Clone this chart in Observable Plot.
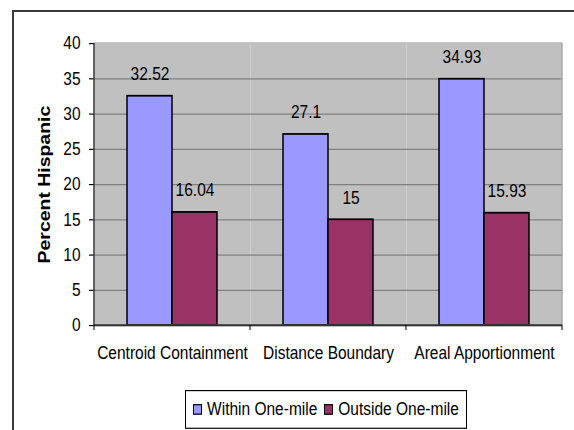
<!DOCTYPE html>
<html>
<head>
<meta charset="utf-8">
<script src="https://cdn.jsdelivr.net/npm/d3@7"></script>
<script src="https://cdn.jsdelivr.net/npm/@observablehq/plot@0.6"></script>
<style>
  html, body { margin: 0; padding: 0; background: #fff; overflow: hidden; }
  #wrap { position: relative; width: 574px; height: 430px; overflow: hidden; font-family: "Liberation Sans", Arial, sans-serif; }
  #outer { position: absolute; left: 12px; top: 10px; width: 700px; height: 600px; border-left: 2px solid #3a3a3a; border-top: 2px solid #3a3a3a; box-sizing: border-box; }
  #chart { position: absolute; left: 0; top: 0; width: 574px; height: 430px; }
  #chart svg { display: block; }
  #legend { position: absolute; left: 185px; top: 390px; width: 282px; height: 32.5px; border: 1px solid #000; background: #fff; box-sizing: border-box;
            display: flex; align-items: center; justify-content: center; gap: 7px; font-size: 15.5px; color: #000;
            transform: scaleY(1.178); transform-origin: top left; }
  .item { display: flex; align-items: center; gap: 5px; }
  .sw { width: 7px; height: 6.5px; border: 1px solid #000; }
</style>
</head>
<body>
<div id="wrap">
  <div id="outer"></div>
  <div id="chart"></div>
  <div id="legend"></div>
</div>
<script>
const categories = ["Centroid Containment", "Distance Boundary", "Areal Apportionment"];
const series = ["Within One-mile", "Outside One-mile"];
const withinValues = [32.52, 27.1, 34.93];
const outsideValues = [16.04, 15, 15.93];
const yTicks = [0, 5, 10, 15, 20, 25, 30, 35, 40];
const colors = ["#9999ff", "#993366"];

const data = [];
categories.forEach((c, i) => {
  data.push({category: c, series: series[0], value: withinValues[i]});
  data.push({category: c, series: series[1], value: outsideValues[i]});
});

// The reference is vertically stretched; draw at a shorter height and stretch the SVG to 430px.
const W = 574, H = 365, S = 430 / H;

const chart = Plot.plot({
  width: W,
  height: H,
  marginLeft: 93,
  marginRight: 11,
  marginTop: 43 / S,
  marginBottom: 105 / S,
  style: {fontFamily: "'Liberation Sans', Arial, sans-serif", fontSize: "15.5px", background: "transparent", overflow: "visible"},
  fx: {domain: categories, padding: 0, label: null},
  x: {domain: series, paddingInner: 0, paddingOuter: 0.73, axis: null},
  y: {domain: [0, 40], label: null},
  color: {domain: series, range: colors},
  marks: [
    Plot.frame({fill: "#c0c0c0"}),
    Plot.ruleY(yTicks.filter(d => d > 0 && d < 40), {stroke: "#808080", strokeWidth: 1}),
    Plot.barY(data, {fx: "category", x: "series", y: "value", fill: "series", stroke: "#000", strokeWidth: 1.5}),
    Plot.text(data, {fx: "category", x: "series", y: "value", text: d => String(d.value), dy: -22 / S, fontSize: 15.5, fill: "#000"}),
    Plot.ruleY([0], {stroke: "#000", strokeWidth: 1}),
    Plot.axisY({ticks: yTicks, tickSize: 5, tickPadding: 9, fontSize: 15.5}),
    Plot.axisY({ticks: [], tickSize: 0, fontSize: 16.5, fontWeight: "bold", label: "Percent Hispanic", labelAnchor: "center", labelArrow: "none", labelOffset: 56}),
    Plot.axisFx({anchor: "bottom", tickSize: 0, tickPadding: 17, fontSize: 15.5, label: null})
  ]
});
chart.setAttribute("width", W);
chart.setAttribute("height", 430);
chart.setAttribute("preserveAspectRatio", "none");
document.getElementById("chart").appendChild(chart);

// Bold y-axis label
d3.select(chart).selectAll("[aria-label='y-axis label'] text, [aria-label='y-axis label']")
  .attr("font-weight", "bold").attr("font-size", 16.5);

// Axis lines, category boundary ticks and plot-area border from the chart's scales
const fx = chart.scale("fx");
const y = chart.scale("y");
const y0 = y.apply(0), y40 = y.apply(40);
const bounds = categories.map(c => fx.apply(c));
bounds.push(fx.apply(categories[categories.length - 1]) + fx.bandwidth);
const svg = d3.select(chart);
const g = svg.append("g");
g.append("rect")
  .attr("x", bounds[0]).attr("y", y40)
  .attr("width", bounds[bounds.length - 1] - bounds[0]).attr("height", y0 - y40)
  .attr("fill", "none").attr("stroke", "#a0a0a0").attr("stroke-width", 1);
g.append("line")
  .attr("x1", bounds[0]).attr("x2", bounds[0]).attr("y1", y40).attr("y2", y0)
  .attr("stroke", "#000");
g.append("line")
  .attr("x1", bounds[0]).attr("x2", bounds[bounds.length - 1]).attr("y1", y0).attr("y2", y0)
  .attr("stroke", "#000");
bounds.forEach(b => {
  g.append("line").attr("x1", b).attr("x2", b).attr("y1", y0).attr("y2", y0 + 5 / S).attr("stroke", "#000");
});

// Legend
const legend = d3.select("#legend");
series.forEach((s, i) => {
  const item = legend.append("div").attr("class", "item");
  item.append("div").attr("class", "sw").style("background", colors[i]);
  item.append("span").text(s);
});
</script>
</body>
</html>
